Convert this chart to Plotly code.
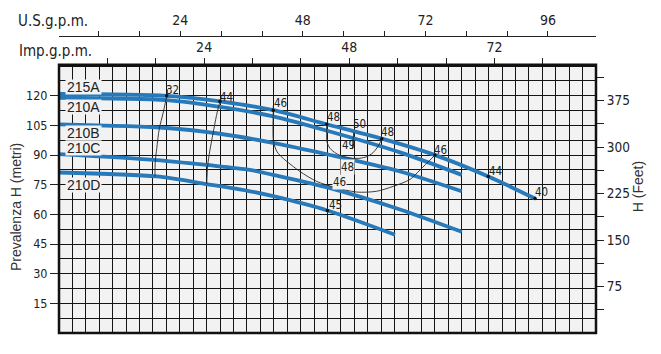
import plotly.graph_objects as go

# ---------------- data (flow in l/min, head in m) ----------------
curve_names = ["215A", "210A", "210B", "210C", "210D"]

flow_215A = [0, 80.2, 119.9, 159.6, 199.4, 240.4, 280.1, 319.8, 354.6]
head_215A = [120.9, 120.0, 117.2, 112.7, 105.6, 98.3, 90.0, 79.2, 68.0]

flow_210A = [0, 80.2, 119.9, 159.6, 200.4, 254.0, 300.0]
head_210A = [119.0, 117.8, 114.4, 109.6, 102.2, 91.4, 80.0]

flow_210B = [0, 80.2, 119.9, 159.4, 200.4, 254.0, 300.0]
head_210B = [105.5, 103.7, 100.8, 96.2, 90.3, 81.7, 71.7]

flow_210C = [0, 72.8, 110.0, 142.3, 159.4, 201.9, 254.0, 300.0]
head_210C = [90.5, 87.5, 85.0, 82.5, 80.0, 73.3, 62.5, 51.2]

flow_210D = [0, 72.8, 110.0, 142.3, 159.6, 199.9, 250.3]
head_210D = [81.2, 79.2, 75.3, 71.7, 69.2, 62.0, 49.7]

label_flow = [18.1, 18.1, 18.1, 18.1, 18.1]
label_head = [124.6, 114.2, 101.0, 93.6, 74.7]

# iso-efficiency lines
eff32_flow = [81.0, 80.2, 77.7, 74.7, 72.8, 71.7, 71.5]
eff32_head = [123.3, 120.0, 111.7, 103.3, 93.3, 86.7, 79.2]

eff44_flow = [121.0, 119.9, 117.3, 114.8, 112.3, 110.8, 110.0]
eff44_head = [119.0, 117.1, 110.0, 101.2, 92.0, 84.9, 75.3]

eff46_flow = [159.6, 159.6, 159.4, 159.8, 162.4, 167.1, 179.5, 191.9, 205.5, 221.7, 236.6, 249.0, 261.5, 268.9, 280.1]
eff46_head = [114.9, 112.7, 104.2, 96.7, 91.7, 88.3, 81.7, 76.7, 73.7, 71.3, 71.7, 74.2, 77.7, 82.5, 90.0]

eff48_flow = [199.4, 199.4, 199.6, 201.9, 206.3, 211.8, 218.3, 224.2, 229.2, 233.9, 236.9, 239.1, 240.4]
eff48_head = [105.6, 101.7, 96.7, 93.4, 90.9, 89.2, 88.4, 88.4, 89.2, 91.2, 93.7, 96.2, 98.3]

eff49_flow = [219.5, 218.5]
eff49_head = [101.5, 93.0]

dot_flow = [80.2, 119.9, 159.6, 199.4, 240.4, 280.1, 319.8, 354.6, 199.9]
dot_head = [120.0, 117.2, 112.7, 105.6, 98.3, 90.0, 79.2, 68.0, 62.0]

eff_text = ["32", "44", "46", "48", "50", "48", "49", "48", "46", "45", "46", "44", "40"]
eff_text_flow = [84.7, 124.9, 165.1, 204.3, 224.2, 244.6, 215.5, 215.1, 209.3, 205.6, 284.3, 325.5, 359.6]
eff_text_head = [123.0, 119.2, 116.3, 109.2, 105.8, 101.7, 95.0, 84.2, 76.2, 65.0, 92.5, 82.0, 71.2]
eff_text_bg = [False, False, False, False, False, False, False, True, True, False, False, False, False]

# axis ticks
head_m_ticks = [15, 30, 45, 60, 75, 90, 105, 120]
head_ft_ticks = [37.5, 75, 112.5, 150, 187.5, 225, 262.5, 300, 337.5, 375, 412.5]
head_ft_text = ["", "75", "", "150", "", "225", "", "300", "", "375", ""]
us_ticks = [8, 16, 24, 32, 40, 48, 56, 64, 72, 80, 88, 96]
us_text = ["", "", "24", "", "", "48", "", "", "72", "", "", "96"]
imp_ticks = [8, 16, 24, 32, 40, 48, 56, 64, 72, 80]
imp_text = ["", "", "24", "", "", "48", "", "", "72", ""]

# ---------------- style ----------------
BLUE = "#2779b9"
PLOT_BG = "#f2f2f2"
GRID = "#141414"
NARROW = "Liberation Sans Narrow, DejaVu Sans Condensed, Arial Narrow, sans-serif"
SANS = "Liberation Sans, Arial, sans-serif"

fig = go.Figure()

series = [(flow_215A, head_215A), (flow_210A, head_210A), (flow_210B, head_210B),
          (flow_210C, head_210C), (flow_210D, head_210D)]
for name, (fx, hy) in zip(curve_names, series):
    fig.add_trace(go.Scatter(x=fx, y=hy, mode="lines", name=name,
                             line=dict(color=BLUE, width=3.8, shape="spline", smoothing=0.8),
                             showlegend=False, hoverinfo="skip"))

for fx, hy in [(eff32_flow, eff32_head), (eff44_flow, eff44_head), (eff46_flow, eff46_head),
               (eff48_flow, eff48_head), (eff49_flow, eff49_head)]:
    fig.add_trace(go.Scatter(x=fx, y=hy, mode="lines",
                             line=dict(color="#2a2a2a", width=0.9, shape="spline", smoothing=0.8),
                             showlegend=False, hoverinfo="skip"))

fig.add_trace(go.Scatter(x=dot_flow, y=dot_head, mode="markers",
                         marker=dict(size=3.5, color="#111"), showlegend=False, hoverinfo="skip"))

# dummy traces so that the secondary axes are drawn
fig.add_trace(go.Scatter(x=[us_ticks[0]], y=[0], xaxis="x2", yaxis="y", mode="markers",
                         marker=dict(opacity=0), showlegend=False, hoverinfo="skip"))
fig.add_trace(go.Scatter(x=[imp_ticks[0]], y=[0], xaxis="x3", yaxis="y", mode="markers",
                         marker=dict(opacity=0), showlegend=False, hoverinfo="skip"))
fig.add_trace(go.Scatter(x=[0], y=[head_ft_ticks[0]], xaxis="x", yaxis="y2", mode="markers",
                         marker=dict(opacity=0), showlegend=False, hoverinfo="skip"))

annotations = []
for t, lx, ly in zip(curve_names, label_flow, label_head):
    annotations.append(dict(x=lx, y=ly, xref="x", yref="y", text=t, showarrow=False,
                            font=dict(family=SANS, size=14, color="#222"),
                            bgcolor=PLOT_BG, borderpad=1, height=12))
for t, lx, ly, bg in zip(eff_text, eff_text_flow, eff_text_head, eff_text_bg):
    annotations.append(dict(x=lx, y=ly, xref="x", yref="y", text=t, showarrow=False,
                            font=dict(family=NARROW, size=11.5, color="#222"),
                            bgcolor=PLOT_BG if bg else None, borderpad=0))

annotations += [
    dict(x=-0.080, y=1.05, xref="paper", yref="paper", text="U.S.g.p.m.", showarrow=False,
         xanchor="left", yanchor="middle", font=dict(family=NARROW, size=15, color="#222")),
    dict(x=-0.078, y=0.950, xref="paper", yref="paper", text="Imp.g.p.m.", showarrow=False,
         xanchor="left", yanchor="middle", font=dict(family=NARROW, size=15, color="#222")),
    dict(x=-0.080, y=0.424, xref="paper", yref="paper", text="Prevalenza H (metri)", showarrow=False,
         textangle=-90, xanchor="center", yanchor="middle", font=dict(family=SANS, size=14, color="#333")),
    dict(x=1.078, y=0.494, xref="paper", yref="paper", text="H (Feet)", showarrow=False,
         textangle=-90, xanchor="center", yanchor="middle", font=dict(family=SANS, size=14, color="#333")),
]

fig.update_layout(
    width=661, height=354,
    margin=dict(l=59, r=65, t=33, b=20.5, pad=0),
    paper_bgcolor="white", plot_bgcolor=PLOT_BG,
    showlegend=False,
    xaxis=dict(range=[0, 400], tick0=0, dtick=10, showgrid=True, gridcolor=GRID, gridwidth=1,
               showticklabels=False, ticks="", zeroline=False, showline=False, fixedrange=True),
    yaxis=dict(range=[0, 135.75], domain=[0, 0.9035], tickmode="array", tickvals=head_m_ticks,
               ticktext=[str(v) for v in head_m_ticks], ticks="outside", ticklen=8, tickcolor="#222",
               tickwidth=1, showgrid=True, gridcolor=GRID, gridwidth=1, zeroline=False, showline=False,
               minor=dict(tick0=0, dtick=7.5, showgrid=True, gridcolor=GRID, gridwidth=1, ticks=""),
               tickfont=dict(family=NARROW, size=12.5, color="#222")),
    yaxis2=dict(overlaying="y", side="right", range=[0, 433], tickmode="array", tickvals=head_ft_ticks,
                ticktext=head_ft_text, ticks="outside", ticklen=7, tickcolor="#222", showgrid=False,
                zeroline=False, showline=False, tickfont=dict(family=NARROW, size=13.5, color="#222")),
    xaxis2=dict(overlaying="x", anchor="free", position=1, side="top", range=[0.25, 105.4],
                tickmode="array", tickvals=us_ticks, ticktext=us_text, ticks="outside", ticklen=5,
                tickcolor="#222", showline=True, linecolor="#222", linewidth=1, showgrid=False,
                zeroline=False, tickfont=dict(family=NARROW, size=14, color="#222")),
    xaxis3=dict(overlaying="x", anchor="y", side="top", range=[0, 88.8],
                tickmode="array", tickvals=imp_ticks, ticktext=imp_text, ticks="outside", ticklen=6,
                tickcolor="#222", showline=False, showgrid=False, zeroline=False,
                tickfont=dict(family=NARROW, size=14, color="#222")),
    annotations=annotations,
    shapes=[dict(type="rect", xref="x domain", yref="y domain", x0=0, x1=1, y0=0, y1=1,
                 line=dict(color="#111", width=2.5), layer="above")],
)

fig.write_html("out.html")
